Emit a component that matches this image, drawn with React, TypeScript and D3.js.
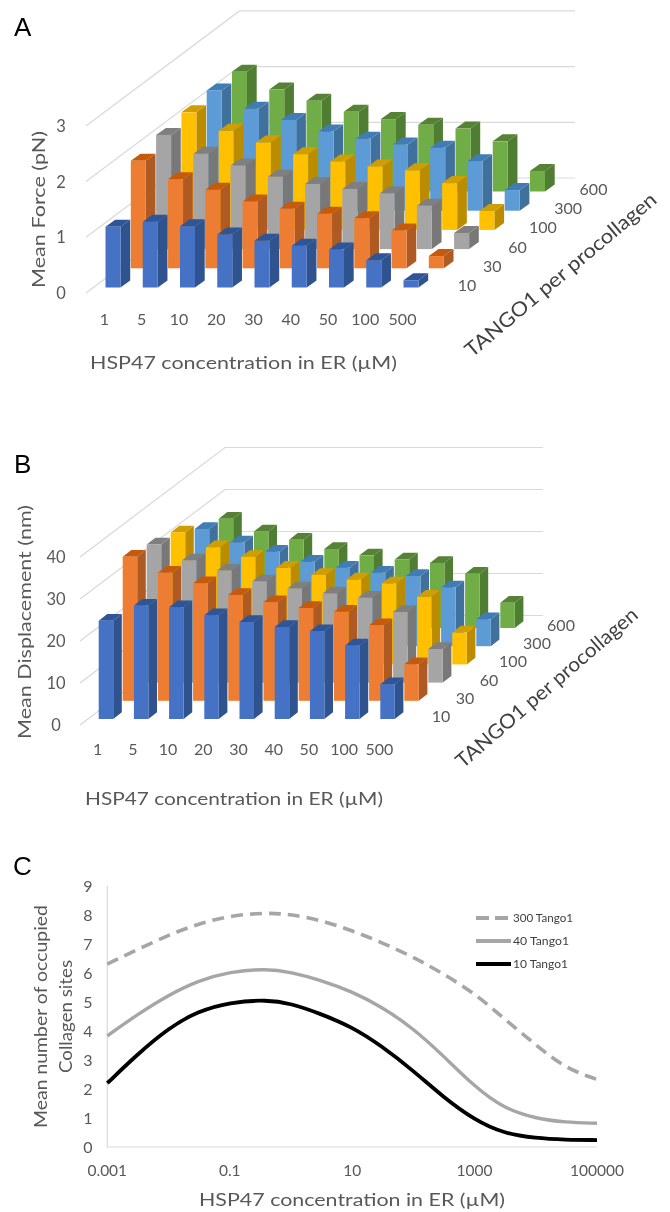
import * as d3 from 'd3';
import React from 'react';

const hspLabels = ['1', '5', '10', '20', '30', '40', '50', '100', '500'];
const tangoLabels = ['10', '30', '60', '100', '300', '600'];

// Panel A, mean force (pN), one array per TANGO1 row, front to back
const force10 = [1.09, 1.18, 1.1, 0.95, 0.84, 0.75, 0.68, 0.49, 0.13];
const force30 = [1.93, 1.6, 1.41, 1.2, 1.07, 0.98, 0.9, 0.68, 0.22];
const force60 = [2.05, 1.71, 1.5, 1.3, 1.17, 1.08, 1.0, 0.78, 0.29];
const force100 = [2.11, 1.78, 1.57, 1.36, 1.23, 1.14, 1.07, 0.84, 0.34];
const force300 = [2.16, 1.83, 1.63, 1.42, 1.29, 1.19, 1.13, 0.89, 0.37];
const force600 = [2.15, 1.83, 1.63, 1.43, 1.3, 1.2, 1.13, 0.9, 0.37];
const forceRows = [force10, force30, force60, force100, force300, force600];
const forceTicks = [0, 1, 2, 3];

// Panel B, mean displacement (nm)
const disp10 = [23.4, 27, 26.6, 24.7, 23.1, 21.9, 20.9, 17.5, 8.3];
const disp30 = [34.3, 30.5, 28, 25.2, 23.5, 22.1, 21.2, 18, 8.7];
const disp60 = [32.9, 29.1, 26.7, 24.1, 22.4, 21.2, 20.2, 16.8, 8.0];
const disp100 = [31.4, 27.9, 25.6, 23, 21.3, 20.2, 19.3, 16.1, 7.6];
const disp300 = [27.9, 24.7, 22.5, 20.1, 18.7, 17.5, 16.7, 14, 6.4];
const disp600 = [26, 23, 21, 18.8, 17.3, 16.3, 15.5, 12.9, 6];
const dispRows = [disp10, disp30, disp60, disp100, disp300, disp600];
const dispTicks = [0, 10, 20, 30, 40];

// Panel C
const hspConc = [0.001, 0.003, 0.01, 0.03, 0.1, 0.4, 1, 3, 10, 30, 100, 300, 1000, 3000, 10000, 30000, 100000];
const sites10 = [2.2, 3.17, 4.1, 4.68, 4.99, 5.08, 4.95, 4.6, 4.14, 3.49, 2.63, 1.74, 0.93, 0.47, 0.3, 0.25, 0.24];
const sites40 = [3.83, 4.55, 5.24, 5.73, 6.05, 6.15, 6.03, 5.76, 5.36, 4.84, 4.09, 3.17, 2.08, 1.33, 0.98, 0.85, 0.82];
const sites300 = [6.31, 6.79, 7.31, 7.69, 7.98, 8.08, 8.02, 7.83, 7.46, 7.06, 6.55, 5.99, 5.3, 4.44, 3.52, 2.72, 2.33];
const sitesTicks = [0, 1, 2, 3, 4, 5, 6, 7, 8, 9];
const concTicks = [0.001, 0.1, 10, 1000, 100000];

const FONT = 'Lato, "Open Sans", sans-serif';
const TEXT = '#595959';

// front, side, top colour for each row
const rowColors = [
  ['#4472c4', '#2f528f', '#2f5597'],
  ['#ed7d31', '#ae5a21', '#c55a11'],
  ['#a5a5a5', '#787878', '#7f7f7f'],
  ['#ffc000', '#bc8c00', '#d09e00'],
  ['#5b9bd5', '#41719c', '#3f7cb5'],
  ['#70ad47', '#507e32', '#548235'],
];

const poly = d3.line();

const Bars3D = ({ rows, ticks, yMax, g }) => {
  // oblique projection: category runs right, depth runs up and to the right
  const x = d3.scalePoint(hspLabels, [g.x0, g.x0 + 8 * g.xStep]);
  const depthX = d3.scalePoint(tangoLabels, [0, 5 * g.rowDx]);
  const depthY = d3.scalePoint(tangoLabels, [0, 5 * g.rowDy]);
  const h = d3.scaleLinear([0, yMax], [0, g.unit * yMax]);

  const bars = [];
  tangoLabels.forEach((t, r) => {
    hspLabels.forEach((c, i) => {
      bars.push({ r, c, t, v: rows[r][i] });
    });
  });
  bars.sort((a, b) => b.r - a.r);

  return (
    <g>
      {ticks.map((t) => {
        const y0 = g.wallY0 - h(t);
        return (
          <path
            key={t}
            d={poly([
              [g.gridX, y0],
              [g.gridX + g.wallDx, y0 - g.wallDy],
              [g.gridEnd, y0 - g.wallDy],
            ])}
            fill="none"
            stroke="#d9d9d9"
            strokeWidth={1.2}
          />
        );
      })}
      {bars.map(({ r, c, t, v }) => {
        const left = x(c) + depthX(t);
        const right = left + g.w;
        const base = g.baseY - depthY(t);
        const top = base - h(v);
        const [front, side, cap] = rowColors[r];
        return (
          <g key={`${t}-${c}`}>
            <path
              d={poly([[right, top], [right + g.sideDx, top - g.sideDy], [right + g.sideDx, base - g.sideDy], [right, base]]) + 'Z'}
              fill={side}
            />
            <path
              d={poly([[left, top], [left + g.sideDx, top - g.sideDy], [right + g.sideDx, top - g.sideDy], [right, top]]) + 'Z'}
              fill={cap}
            />
            <rect x={left} y={top} width={g.w} height={h(v)} fill={front} />
          </g>
        );
      })}
      {ticks.map((t) => (
        <text key={t} x={g.tickX} y={g.wallY0 - h(t) + 6} textAnchor="middle" fontSize={16.5} fill={TEXT} fontFamily={FONT}>
          {t}
        </text>
      ))}
      {hspLabels.map((c) => (
        <text key={c} x={x(c) - 1} y={g.catY} textAnchor="middle" fontSize={16} fill={TEXT} fontFamily={FONT}>
          {c}
        </text>
      ))}
      {tangoLabels.map((t) => (
        <text key={t} x={g.serX + depthX(t)} y={g.serY - depthY(t)} textAnchor="middle" fontSize={16} fill={TEXT} fontFamily={FONT}>
          {t}
        </text>
      ))}
    </g>
  );
};

const Title = ({ x, y, len, rotate = 0, size = 18, fill = '#404040', children }) => (
  <text
    transform={`translate(${x},${y}) rotate(${rotate})`}
    fontSize={size}
    fontFamily={FONT}
    fill={fill}
    textLength={len}
    lengthAdjust="spacingAndGlyphs"
  >
    {children}
  </text>
);

const Panel = ({ children, x, y }) => (
  <text x={x} y={y} fontSize={26} fontFamily='"Liberation Sans", Arial, sans-serif' fill="#000">
    {children}
  </text>
);

const geomA = {
  x0: 105.5, xStep: 37.25, w: 15, baseY: 287.5, rowDx: 25.3, rowDy: 19.2, sideDx: 9.7, sideDy: 7,
  unit: 55.7, gridX: 86, gridEnd: 575, wallDx: 153.5, wallDy: 115, wallY0: 293,
  tickX: 61, catY: 325, serX: 467, serY: 291,
};

const geomB = {
  x0: 98.7, xStep: 35.2, w: 14.5, baseY: 719, rowDx: 24, rowDy: 18.2, sideDx: 8.6, sideDy: 6.7,
  unit: 4.2, gridX: 80, gridEnd: 543, wallDx: 145, wallDy: 109.5, wallY0: 725,
  tickX: 56, catY: 755, serX: 441, serY: 722,
};

const LineChart = () => {
  const x = d3.scaleLog([0.001, 100000], [107.3, 597]);
  const y = d3.scaleLinear([0, 9], [1147, 886]);
  const line = d3
    .line()
    .x((_, i) => x(hspConc[i]))
    .y((d) => y(d))
    .curve(d3.curveBasis);

  const legend = [
    { label: '300 Tango1', y: 918, color: '#a6a6a6', dash: '13 6', w: 3.8, len: 60 },
    { label: '40 Tango1', y: 941, color: '#a6a6a6', dash: null, w: 3.8, len: 56 },
    { label: '10 Tango1', y: 964, color: '#000', dash: null, w: 3.8, len: 55 },
  ];

  return (
    <g>
      <path d={poly([[x(0.001), 886], [x(0.001), 1147], [597, 1147]])} fill="none" stroke="#d9d9d9" strokeWidth={1.2} />
      <path d={line(sites300)} fill="none" stroke="#a6a6a6" strokeWidth={3.6} strokeDasharray="12 7" />
      <path d={line(sites40)} fill="none" stroke="#a6a6a6" strokeWidth={3.4} />
      <path d={line(sites10)} fill="none" stroke="#000" strokeWidth={3.8} />
      {sitesTicks.map((t) => (
        <text key={t} x={88} y={y(t) + 6} textAnchor="middle" fontSize={16} fill={TEXT} fontFamily={FONT}>
          {t}
        </text>
      ))}
      {concTicks.map((t) => (
        <text key={t} x={x(t)} y={1176} textAnchor="middle" fontSize={15.5} fill={TEXT} fontFamily={FONT}>
          {t}
        </text>
      ))}
      {legend.map((l) => (
        <g key={l.label}>
          <line x1={476} x2={511} y1={l.y} y2={l.y} stroke={l.color} strokeWidth={l.w} strokeDasharray={l.dash ?? undefined} />
          <text x={513} y={l.y + 3.5} fontSize={11.5} fill="#404040" fontFamily={FONT} textLength={l.len} lengthAdjust="spacingAndGlyphs">
            {l.label}
          </text>
        </g>
      ))}
    </g>
  );
};

const App = () => (
  <svg width={670} height={1212} style={{ position: 'absolute', left: 0, top: 0, background: '#fff' }}>
    <defs>
      {/* the source is a soft, resampled raster */}
      <filter id="soft" x="0" y="0" width="100%" height="100%">
        <feGaussianBlur stdDeviation={0.45} />
      </filter>
    </defs>
    <g filter="url(#soft)">
      <rect width={670} height={1212} fill="#fff" />
      <Panel x={14} y={36}>A</Panel>
      <Bars3D rows={forceRows} ticks={forceTicks} yMax={3} g={geomA} />
      <Title x={45} y={288} len={157} rotate={-90} fill={TEXT}>Mean Force (pN)</Title>
      <Title x={90} y={369} len={307} fill={TEXT}>HSP47 concentration in ER (µM)</Title>
      <Title x={472} y={358} len={243} rotate={-40} size={20}>TANGO1 per procollagen</Title>

      <Panel x={14} y={473}>B</Panel>
      <Bars3D rows={dispRows} ticks={dispTicks} yMax={40} g={geomB} />
      <Title x={31} y={739} len={234} rotate={-90} fill={TEXT}>Mean Displacement (nm)</Title>
      <Title x={85} y={805} len={298} fill={TEXT}>HSP47 concentration in ER (µM)</Title>
      <Title x={463} y={769} len={233} rotate={-40.8} size={20}>TANGO1 per procollagen</Title>

      <Panel x={13} y={875}>C</Panel>
      <LineChart />
      <Title x={47} y={1128} len={223} rotate={-90} fill={TEXT}>Mean number of occupied</Title>
      <Title x={72} y={1073} len={113} rotate={-90} fill={TEXT}>Collagen sites</Title>
      <Title x={199} y={1206} len={306} fill={TEXT}>HSP47 concentration in ER (µM)</Title>
    </g>
  </svg>
);

export default App;
